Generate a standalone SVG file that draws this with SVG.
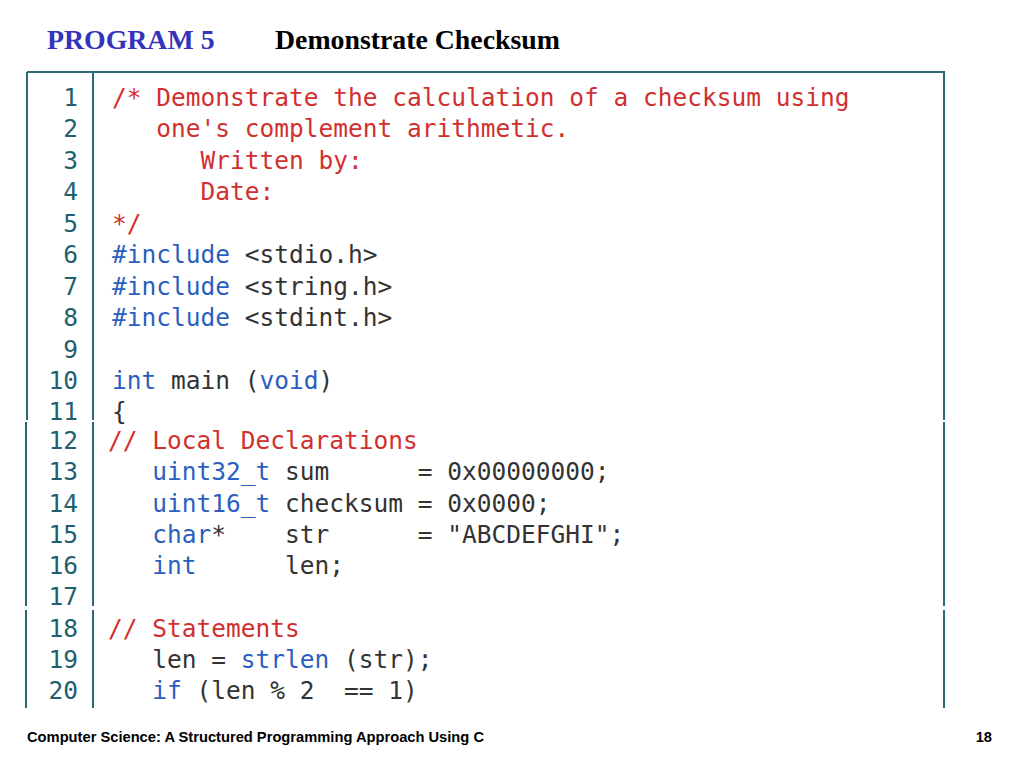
<svg xmlns="http://www.w3.org/2000/svg" width="1024" height="768" viewBox="0 0 1024 768">
<style>
.t{font-family:"Liberation Serif",serif;font-weight:bold;font-size:27.8px}
.c{font-family:"DejaVu Sans Mono",monospace;font-size:24.5px;fill:#333;white-space:pre}
.n{fill:#1f5f6e;text-anchor:end}
.r{fill:#d03030}.b{fill:#2a5fc0}
.f{stroke:#2c6a78;stroke-width:2;fill:none}
.ft{font-family:"Liberation Sans",sans-serif;font-weight:bold;font-size:14.7px;fill:#000}
</style>
<rect width="1024" height="768" fill="#fff"/>
<text class="t" x="47" y="49" fill="#3333bb">PROGRAM 5</text>
<text class="t" x="275" y="49" fill="#000">Demonstrate Checksum</text>
<g id="frame" class="f">
<path d="M27 72H945M27 72V420M93 72V420M944 72V420"/>
<path d="M26 422V606M93 422V606M944 422V606"/>
<path d="M26 610V708M93 610V708M944 610V708"/>
</g>
<g id="code">
<g class="c n">
<text x="78" y="106">1</text><text x="78" y="137">2</text><text x="78" y="169">3</text><text x="78" y="200">4</text><text x="78" y="232">5</text><text x="78" y="263">6</text><text x="78" y="295">7</text><text x="78" y="326">8</text><text x="78" y="358">9</text><text x="78" y="389">10</text><text x="78" y="420">11</text><text x="78" y="449">12</text><text x="78" y="480">13</text><text x="78" y="512">14</text><text x="78" y="543">15</text><text x="78" y="574">16</text><text x="78" y="605">17</text><text x="78" y="637">18</text><text x="78" y="668">19</text><text x="78" y="699">20</text>
</g>
<g class="c">
<text x="112" y="106" class="c r">/* Demonstrate the calculation of a checksum using</text>
<text x="112" y="137" class="c r">   one's complement arithmetic.</text>
<text x="112" y="169" class="c r">      Written by:</text>
<text x="112" y="200" class="c r">      Date:</text>
<text x="112" y="232" class="c r">*/</text>
<text x="112" y="263" class="c"><tspan class="b">#include</tspan> &lt;stdio.h&gt;</text>
<text x="112" y="295" class="c"><tspan class="b">#include</tspan> &lt;string.h&gt;</text>
<text x="112" y="326" class="c"><tspan class="b">#include</tspan> &lt;stdint.h&gt;</text>
<text x="112" y="389" class="c"><tspan class="b">int</tspan> main (<tspan class="b">void</tspan>)</text>
<text x="112" y="420" class="c">{</text>
<text x="108" y="449" class="c r">// Local Declarations</text>
<text x="108" y="480" class="c">   <tspan class="b">uint32_t</tspan> sum      = 0x00000000;</text>
<text x="108" y="512" class="c">   <tspan class="b">uint16_t</tspan> checksum = 0x0000;</text>
<text x="108" y="543" class="c">   <tspan class="b">char</tspan>*    str      = "ABCDEFGHI";</text>
<text x="108" y="574" class="c">   <tspan class="b">int</tspan>      len;</text>
<text x="108" y="637" class="c r">// Statements</text>
<text x="108" y="668" class="c">   len = <tspan class="b">strlen</tspan> (str);</text>
<text x="108" y="699" class="c">   <tspan class="b">if</tspan> (len % 2  == 1)</text>
</g>
</g>
<text class="ft" x="27" y="742">Computer Science: A Structured Programming Approach Using C</text>
<text class="ft" x="992" y="742" text-anchor="end">18</text>
</svg>
